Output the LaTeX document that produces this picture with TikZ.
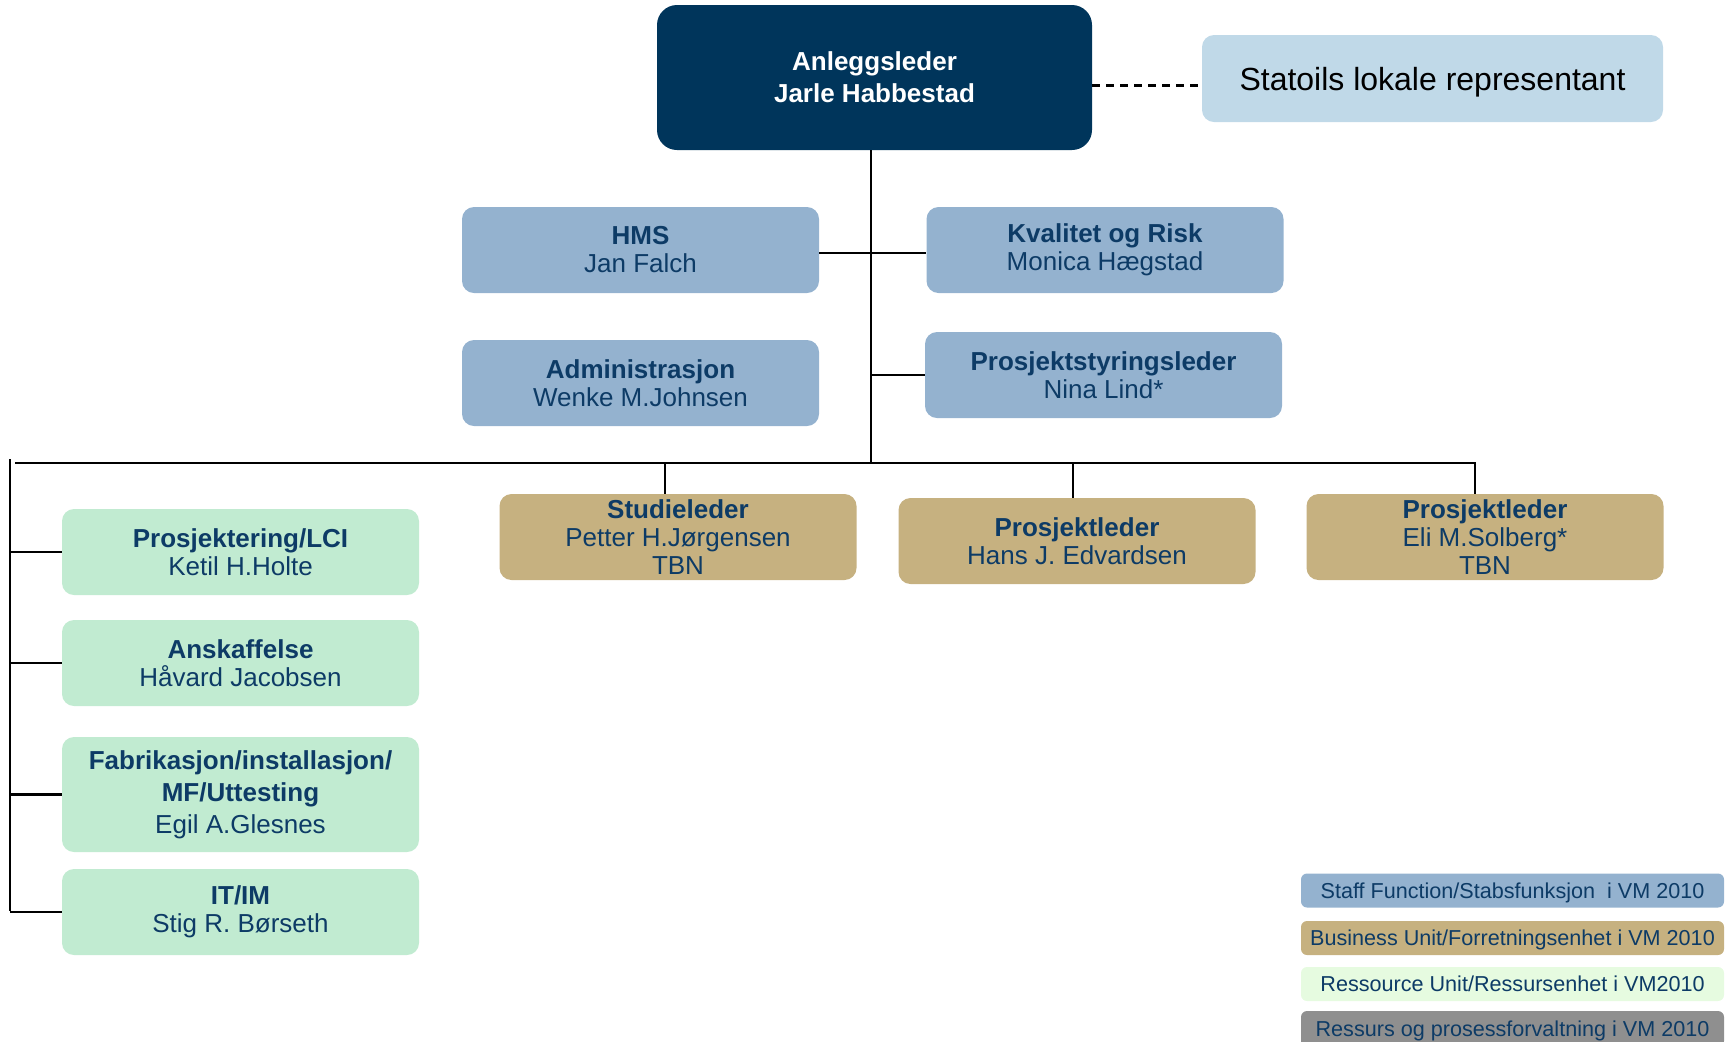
\documentclass[tikz,border=0pt]{standalone}
\usepackage{fontspec}
\setmainfont{Liberation Sans}

\definecolor{chiefblue}{HTML}{00355B}
\definecolor{txtblue}{HTML}{0D3B66}
\definecolor{staffblue}{HTML}{94B2CF}
\definecolor{unittan}{HTML}{C6B180}
\definecolor{resgreen}{HTML}{C1EBD1}
\definecolor{palegreen}{HTML}{E6FBE0}
\definecolor{statoilblue}{HTML}{C0D9E8}
\definecolor{procgray}{HTML}{8F8F8F}

\tikzset{
  box/.style={rounded corners=6pt, inner sep=0pt, align=center, text=txtblue,
    minimum width=178.5pt, minimum height=43pt, font=\fontsize{13}{14}\selectfont},
  chief/.style={box, rounded corners=10pt, fill=chiefblue, text=white,
    minimum width=217.5pt, minimum height=72.5pt, font=\fontsize{13}{16}\selectfont\bfseries},
  statoil/.style={box, fill=statoilblue, text=black, minimum width=230.5pt,
    minimum height=43.5pt, text depth=0pt, font=\fontsize{16}{18}\selectfont},
  staff/.style={box, fill=staffblue},
  unit/.style={box, fill=unittan},
  res/.style={box, fill=resgreen},
  legend/.style={rounded corners=3pt, inner sep=0pt, text=txtblue, text depth=0pt,
    minimum width=211.5pt, minimum height=17pt, font=\fontsize{10.8}{12}\selectfont},
  conn/.style={line width=1.1pt}
}

\begin{document}
\begin{tikzpicture}[x=0.5pt,y=-0.5pt]
  \useasboundingbox (0,0) rectangle (1729,1041);

  % top
  \node[chief] (leder) at (874.5,77.5) {Anleggsleder\\Jarle Habbestad};
  \node[statoil] (statoil) at (1432.5,78.5) {Statoils lokale representant};
  \draw[conn, dash pattern=on 4pt off 3pt] (leder.east) ++(0,8) coordinate (d1) -- (d1 -| statoil.west);

  % staff functions
  \node[staff] (hms) at (640.5,250) {\textbf{HMS}\\Jan Falch};
  \node[staff] (kval) at (1105,250) {\textbf{Kvalitet og Risk}\\Monica Hægstad};
  \node[staff] (adm) at (640.5,383) {\textbf{Administrasjon}\\Wenke M.Johnsen};
  \node[staff] (styr) at (1103.5,375) {\textbf{Prosjektstyringsleder}\\Nina Lind*};

  \coordinate (busL) at (15,463);
  \coordinate (busR) at (1475,463);
  \draw[conn] (leder.south) ++(-3.5,0) coordinate (trunk) -- (trunk |- busL);
  \draw[conn] (hms.east) ++(0,3) coordinate (h1) -- (h1 -| kval.west);
  \draw[conn] (trunk |- styr.west) -- (styr.west);

  % business units
  \node[unit] (stud) at (678,537) {\textbf{Studieleder}\\Petter H.Jørgensen\\TBN};
  \node[unit] (hans) at (1077,541) {\textbf{Prosjektleder}\\Hans J. Edvardsen};
  \node[unit] (eli) at (1485,537) {\textbf{Prosjektleder}\\Eli M.Solberg*\\TBN};

  \draw[conn] (busL) -- (busR) -- (busR |- eli.north);
  \draw[conn] (stud.north) ++(-13,0) -- ++(0,-31);
  \draw[conn] (hans.north) ++(-4,0) -- ++(0,-35);

  % resource units
  \node[res] (lci) at (240.5,552) {\textbf{Prosjektering/LCI}\\Ketil H.Holte};
  \node[res] (ansk) at (240.5,663) {\textbf{Anskaffelse}\\Håvard Jacobsen};
  \node[res, minimum height=57.5pt, font=\fontsize{13}{16}\selectfont] (fab) at (240.5,794.5)
    {\textbf{Fabrikasjon/installasjon/}\\\textbf{MF/Uttesting}\\Egil A.Glesnes};
  \node[res] (it) at (240.5,912) {\textbf{IT/IM}\\Stig R. Børseth};

  \coordinate (colT) at (10,459);
  \coordinate (colB) at (10,911);
  \draw[conn] (colT) -- (colB);
  \foreach \n in {lci,ansk,fab,it}
    \draw[conn] (\n.west -| colT) -- (\n.west);

  % legend
  \node[legend, fill=staffblue] (lgstaff) at (1512.5,890.5) {Staff Function/Stabsfunksjon\ \ i VM 2010};
  \node[legend, fill=unittan] (lgunit) at (1512.5,938) {Business Unit/Forretningsenhet i VM 2010};
  \node[legend, fill=palegreen] (lgres) at (1512.5,984) {Ressource Unit/Ressursenhet i VM2010};
  \node[legend, fill=procgray, minimum height=18pt] (lgproc) at (1512.5,1029) {Ressurs og prosessforvaltning i VM 2010};
\end{tikzpicture}
\end{document}
